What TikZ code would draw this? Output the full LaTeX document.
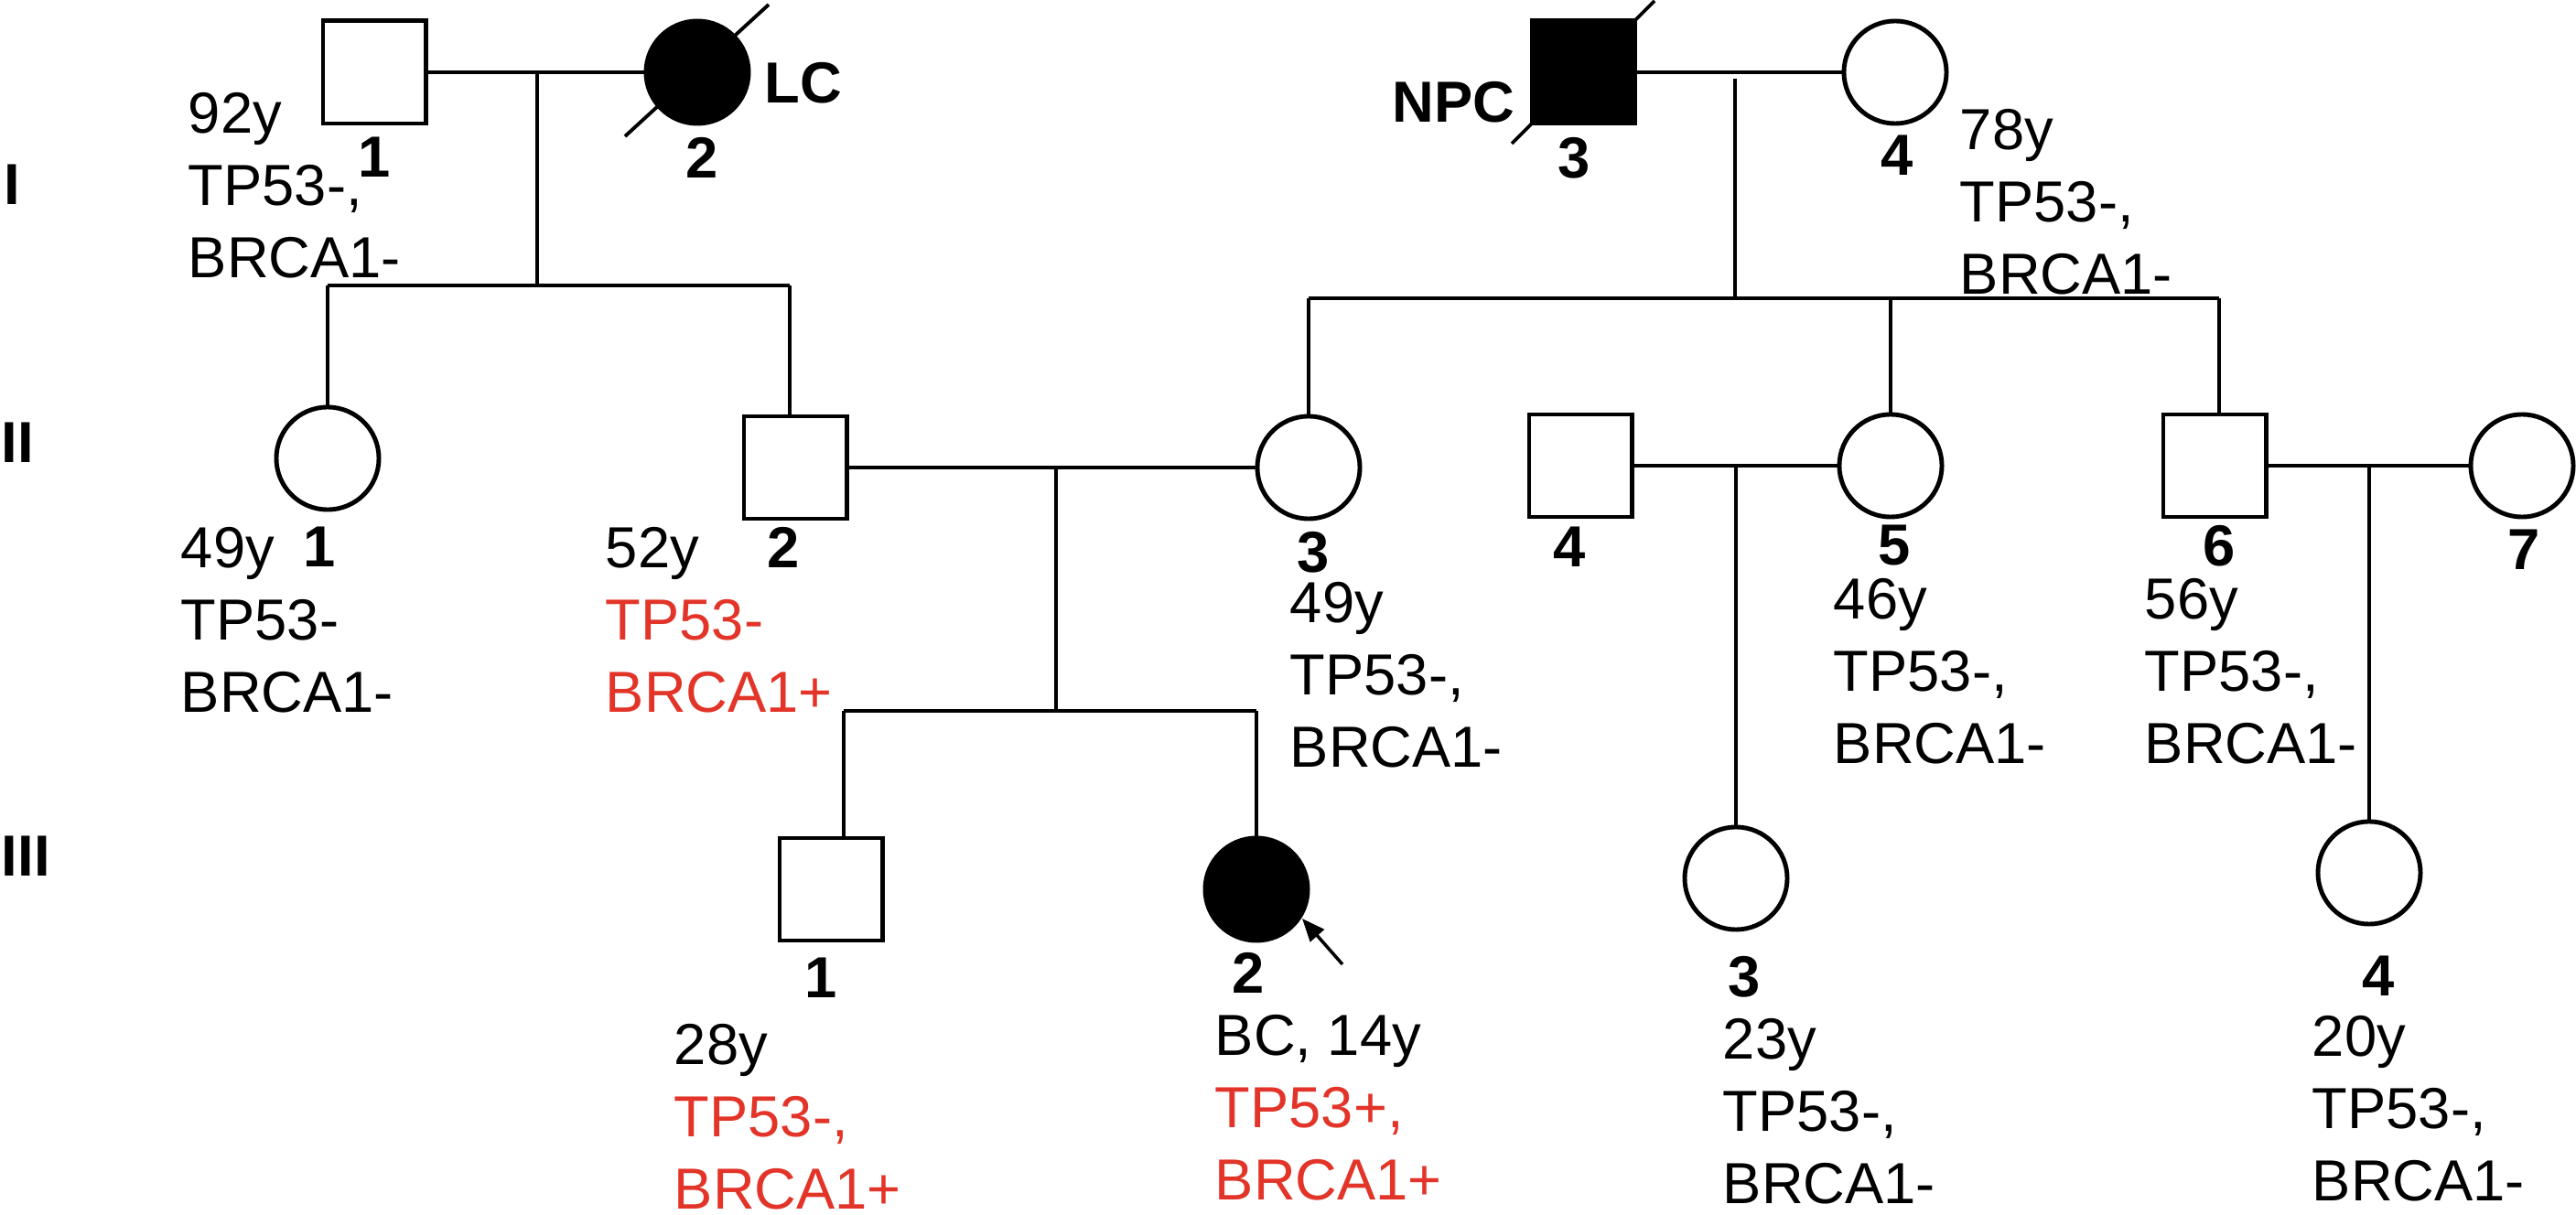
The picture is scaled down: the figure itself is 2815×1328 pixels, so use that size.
\documentclass[tikz,border=0pt]{standalone}
\usepackage{fontspec}
\setmainfont{Liberation Sans}
\usetikzlibrary{arrows.meta}
\definecolor{pedred}{RGB}{226,52,40}
\newcommand{\lbfont}{\fontsize{18}{22.5}\selectfont}
\newcommand{\nbfont}{\fontsize{18}{22.5}\selectfont\bfseries}
\begin{document}
\begin{tikzpicture}[x=0.01cm,y=-0.01cm,
  line width=1.05pt,
  male/.style={draw, rectangle, minimum size=1.12cm, inner sep=0pt, line width=1.4pt},
  female/.style={draw, circle, minimum size=1.12cm, inner sep=0pt, line width=1.4pt},
  affected/.style={fill=black},
  lbl/.style={anchor=north west, inner sep=0pt, align=left, font=\lbfont},
  num/.style={anchor=north, inner sep=0pt, font=\nbfont},
  bl/.style={anchor=north west, inner sep=0pt, font=\nbfont},
  slash/.style={line width=1.1pt},
  proband/.style={line width=1.0pt, -{Triangle[length=0.25cm, width=0.2cm]}},
]
\useasboundingbox (0,0) rectangle (2815,1328);

% generation labels
\node[bl] (gI) at (3,178) {I};
\node[bl] (gII) at (0,460) {II};
\node[bl] (gIII) at (0,912) {III};

% generation I
\node[male] (I1) at (409,79) {};
\node[female,affected] (I2) at (762,79) {};
\node[male,affected] (I3) at (1730,79) {};
\node[female] (I4) at (2071,79) {};

% generation II
\node[female] (II1) at (358,501) {};
\node[male] (II2) at (869,511) {};
\node[female] (II3) at (1430,511) {};
\node[male] (II4) at (1727,509) {};
\node[female] (II5) at (2066,509) {};
\node[male] (II6) at (2420,509) {};
\node[female] (II7) at (2756,509) {};

% generation III
\node[male] (III1) at (908,972) {};
\node[female,affected] (III2) at (1373,972) {};
\node[female] (III3) at (1897,960) {};
\node[female] (III4) at (2589,954) {};

% deceased slashes
\draw[slash] (I2) ++(-79,70) -- ++(157,-144);
\draw[slash] (I3) ++(-78,78) -- ++(156,-156);

% proband arrow
\draw[proband] (III2) ++(94,82) -- ++(-44,-50);

% couple lines
\draw (I1.east) -- (I2.west);
\draw (I3.east) -- (I4.west);
\draw (II2.east) -- (II3.west);
\draw (II4.east) -- (II5.west);
\draw (II6.east) -- (II7.west);

% family I:1 x I:2
\coordinate (m12) at (587,79);
\coordinate (s12) at (587,314);
\coordinate (s12L) at (358,312);
\coordinate (s12R) at (863,312);
\draw (m12) -- (s12);
\draw (s12L) -- (s12R);
\draw (s12L) -- (II1.north);
\draw (s12R) -- (s12R |- II2.north);

% family I:3 x I:4
\coordinate (m34) at (1896,86);
\coordinate (s34) at (1896,326);
\coordinate (s34L) at (1430,326);
\coordinate (s34M) at (2066,326);
\coordinate (s34R) at (2425,326);
\draw (m34) -- (s34);
\draw (s34L) -- (s34R);
\draw (s34L) -- (II3.north);
\draw (s34M) -- (II5.north);
\draw (s34R) -- (s34R |- II6.north);

% family II:2 x II:3
\coordinate (m23) at (1154,511);
\coordinate (s23) at (1154,777);
\coordinate (s23L) at (922,777);
\coordinate (s23R) at (1373,777);
\draw (m23) -- (s23);
\draw (s23L) -- (s23R);
\draw (s23L) -- (s23L |- III1.north);
\draw (s23R) -- (III2.north);

% family II:4 x II:5
\coordinate (m45) at (1897,509);
\draw (m45) -- (III3.north);

% family II:6 x II:7
\coordinate (m67) at (2589,509);
\draw (m67) -- (III4.north);

% labels generation I
\node[lbl] (tI1) at (204,99) {92y\\TP53-,\\BRCA1-};
\node[num] (nI1) at (409,148) {1};
\node[num] (nI2) at (767,148) {2};
\node[bl] (lc) at (834,66) {LC};
\node[bl] (npc) at (1520,87) {NPC};
\node[num] (nI3) at (1720,148) {3};
\node[num] (nI4) at (2073,146) {4};
\node[lbl] (tI4) at (2140,117) {78y\\TP53-,\\BRCA1-};

% labels generation II
\node[lbl] (tII1) at (196,574) {49y\\TP53-\\BRCA1-};
\node[num] (nII1) at (349,574) {1};
\node[lbl] (tII2) at (660,574) {52y\\\textcolor{pedred}{TP53-}\\\textcolor{pedred}{BRCA1+}};
\node[num] (nII2) at (856,574) {2};
\node[num] (nII3) at (1435,579) {3};
\node[lbl] (tII3) at (1408,634) {49y\\TP53-,\\BRCA1-};
\node[num] (nII4) at (1715,574) {4};
\node[num] (nII5) at (2070,572) {5};
\node[lbl] (tII5) at (2002,630) {46y\\TP53-,\\BRCA1-};
\node[num] (nII6) at (2425,572) {6};
\node[lbl] (tII6) at (2342,630) {56y\\TP53-,\\BRCA1-};
\node[num] (nII7) at (2758,577) {7};

% labels generation III
\node[num] (nIII1) at (897,1045) {1};
\node[lbl] (tIII1) at (735,1117) {28y\\\textcolor{pedred}{TP53-,}\\\textcolor{pedred}{BRCA1+}};
\node[num] (nIII2) at (1364,1039) {2};
\node[lbl] (tIII2) at (1326,1107) {BC, 14y\\\textcolor{pedred}{TP53+,}\\\textcolor{pedred}{BRCA1+}};
\node[num] (nIII3) at (1906,1043) {3};
\node[lbl] (tIII3) at (1881,1111) {23y\\TP53-,\\BRCA1-};
\node[num] (nIII4) at (2599,1043) {4};
\node[lbl] (tIII4) at (2525,1108) {20y\\TP53-,\\BRCA1-};
\end{tikzpicture}
\end{document}
